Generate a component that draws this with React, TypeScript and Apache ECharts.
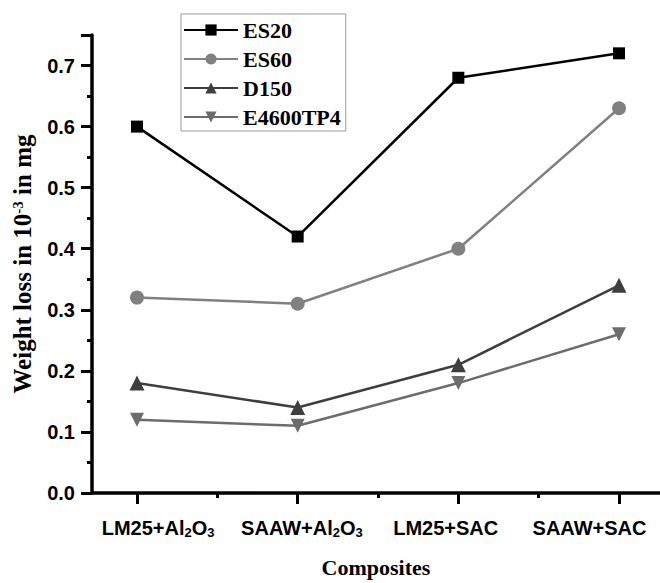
import React, { useEffect, useRef } from "react";
import * as echarts from "echarts";

const categories = ["LM25+Al{sub|2}O{sub|3}", "SAAW+Al{sub|2}O{sub|3}", "LM25+SAC", "SAAW+SAC"];
const seriesNames = ["ES20", "ES60", "D150", "E4600TP4"];
const es20 = [0.6, 0.42, 0.68, 0.72];
const es60 = [0.32, 0.31, 0.4, 0.63];
const d150 = [0.18, 0.14, 0.21, 0.34];
const e4600 = [0.12, 0.11, 0.18, 0.26];
const yTicks = ["0.0", "0.1", "0.2", "0.3", "0.4", "0.5", "0.6", "0.7"];
const categoryPositions = [1, 2, 3, 4];
const minorPositions = [1.5, 2.5, 3.5];

const allValues = [es20, es60, d150, e4600];
const colors = ["#000000", "#808080", "#3e3e3e", "#6c6c6c"];
const symbols = ["rect", "circle", "triangle", "triangle"];
const rotations = [0, 0, 0, 180];
const symbolSizes = [12, 14, 15, 14];

export default function App() {
  const ref = useRef<HTMLDivElement>(null);
  useEffect(() => {
    if (!ref.current) return;
    const chart = echarts.init(ref.current, null, { renderer: "svg" });
    const serif = "'Liberation Serif', 'Times New Roman', serif";
    const sans = "'Liberation Sans', Arial, sans-serif";
    const axisColor = "#000";
    chart.setOption({
      animation: false,
      backgroundColor: "#ffffff",
      legend: {
        orient: "vertical",
        left: 181,
        top: 14,
        itemWidth: 54,
        itemHeight: 14,
        itemGap: 7,
        padding: [5, 5, 3, 2],
        borderColor: "#999",
        borderWidth: 1,
        data: seriesNames,
        textStyle: { fontFamily: serif, fontWeight: "bold", fontSize: 22, color: "#000", lineHeight: 22 },
      },
      grid: { left: 92, top: 35, right: 0, bottom: 88, containLabel: false },
      xAxis: [
        {
          type: "value",
          min: 0.72,
          max: 4.255,
          name: "Composites",
          nameLocation: "middle",
          nameGap: 63,
          nameTextStyle: { fontFamily: serif, fontWeight: "bold", fontSize: 22, color: "#000" },
          axisLine: { show: true, lineStyle: { color: axisColor, width: 3.5 } },
          splitLine: { show: false },
          axisTick: { show: true, customValues: categoryPositions, length: 11, lineStyle: { color: axisColor, width: 3 } },
          axisLabel: { show: false },
        },
        {
          type: "value",
          position: "bottom",
          min: 0.72,
          max: 4.255,
          axisLine: { show: false },
          splitLine: { show: false },
          axisTick: { show: true, customValues: minorPositions, length: 5, lineStyle: { color: axisColor, width: 3 } },
          axisLabel: { show: false },
        },
        {
          type: "value",
          position: "bottom",
          min: 0.54,
          max: 4.49,
          axisLine: { show: false },
          splitLine: { show: false },
          axisTick: { show: false },
          axisLabel: {
            customValues: categoryPositions,
            margin: 25,
            formatter: (v: number) => categories[Math.round(v) - 1] ?? "",
            fontFamily: sans,
            fontWeight: "bold",
            fontSize: 20,
            color: "#000",
            rich: {
              sub: { fontFamily: sans, fontWeight: "bold", fontSize: 13, color: "#000", verticalAlign: "bottom", padding: [0, 0, -1, 0] },
            },
          },
        },
      ],
      yAxis: {
        type: "value",
        min: 0,
        max: 0.75,
        interval: 0.1,
        name: "Weight loss in 10{sup|-3} in mg",
        nameLocation: "middle",
        nameGap: 57,
        nameTextStyle: {
          fontFamily: serif,
          fontWeight: "bold",
          fontSize: 25,
          color: "#000",
          rich: {
            sup: { fontFamily: serif, fontWeight: "bold", fontSize: 15, color: "#000", verticalAlign: "top", padding: [0, 0, 10, 0] },
          },
        },
        axisLine: { show: true, lineStyle: { color: axisColor, width: 3.5 } },
        splitLine: { show: false },
        axisTick: { show: true, length: 11, lineStyle: { color: axisColor, width: 3 } },
        minorTick: { show: true, splitNumber: 2, length: 5, lineStyle: { color: axisColor, width: 3 } },
        axisLabel: {
          margin: 17,
          showMaxLabel: false,
          formatter: (v: number) => {
            const k = Math.round(v * 10);
            return Math.abs(v * 10 - k) < 1e-6 ? yTicks[k] ?? "" : "";
          },
          fontFamily: sans,
          fontWeight: "bold",
          fontSize: 20,
          color: "#000",
        },
      },
      series: allValues.map((vals, si) => ({
        name: seriesNames[si],
        type: "line",
        xAxisIndex: 0,
        data: vals.map((v, i) => [categoryPositions[i], v]),
        symbol: symbols[si],
        symbolRotate: rotations[si],
        symbolSize: symbolSizes[si],
        lineStyle: { color: colors[si], width: 2.5 },
        itemStyle: { color: colors[si] },
        emphasis: { disabled: true },
      })),
    });
    return () => chart.dispose();
  }, []);
  return <div ref={ref} style={{ position: "fixed", left: 0, top: 0, width: 660, height: 583 }} />;
}
